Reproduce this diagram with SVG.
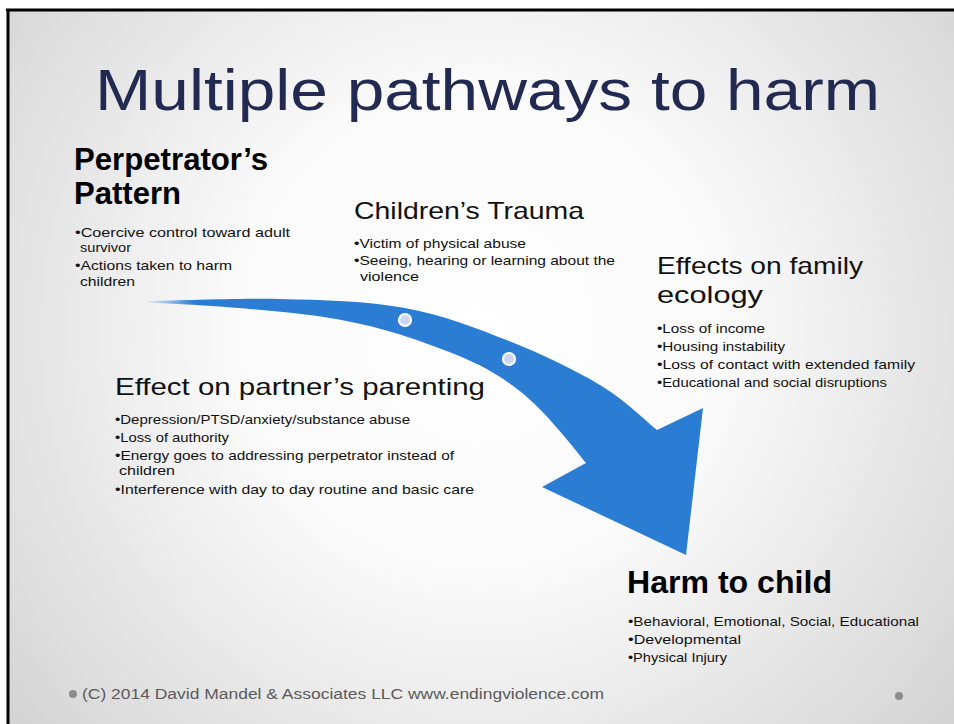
<svg xmlns="http://www.w3.org/2000/svg" width="954" height="724" viewBox="0 0 954 724">
<defs>
<radialGradient id="bg" gradientUnits="userSpaceOnUse" cx="480" cy="330" r="620">
<stop offset="0" stop-color="#ffffff"/>
<stop offset="0.4" stop-color="#fafafa"/>
<stop offset="1" stop-color="#d3d3d3"/>
</radialGradient>
<linearGradient id="arrowfill" gradientUnits="userSpaceOnUse" x1="145" y1="0" x2="195" y2="0">
<stop offset="0" stop-color="#2a7dd3" stop-opacity="0"/>
<stop offset="1" stop-color="#2a7dd3" stop-opacity="1"/>
</linearGradient>
<style>
.title{font-family:"Liberation Sans","Open Sans",sans-serif;font-size:58px;fill:#222a52}
.hb{font-family:"Liberation Sans",Arial,sans-serif;font-size:31px;font-weight:bold;fill:#000}
.h{font-family:"Liberation Sans",Arial,sans-serif;font-size:24px;fill:#111}
.b{font-family:"Liberation Sans",Arial,sans-serif;font-size:13.5px;fill:#111}
.foot{font-family:"Liberation Sans",Arial,sans-serif;font-size:14px;fill:#5a5a5a}
.dot{fill:#8c8c8c}
.knot{fill:#cdd6ee;stroke:#ffffff;stroke-width:2.2}
</style>
</defs>
<rect x="0" y="0" width="954" height="724" fill="#ffffff"/>
<rect x="8" y="10" width="946" height="714" fill="url(#bg)"/>
<line x1="6" y1="10" x2="954" y2="10" stroke="#000" stroke-width="3"/>
<line x1="8" y1="9" x2="8" y2="724" stroke="#000" stroke-width="3"/>

<g id="connectors">
<path d="M148,301 C168,301 237,298 280,299 C323,300 367,301 405,308 C443,315 476,328 509,341 C542,354 575,370 600,385 C625,400 647,422 657,430 L703,408 L686,555 L542,487 L586,463 C574,448 545,411 521,392 C497,373 476,362 444,350 C412,338 379,326 330,318 C281,310 178,303 148,303 Z" fill="url(#arrowfill)"/>
<circle class="knot" cx="405" cy="320" r="6"/>
<circle class="knot" cx="509" cy="359" r="6"/>
</g>

<g id="title">
<text class="title" x="95" y="110" textLength="785" lengthAdjust="spacingAndGlyphs">Multiple pathways to harm</text>
</g>

<g id="perpetrator">
<text class="hb" x="74" y="170" textLength="194" lengthAdjust="spacingAndGlyphs">Perpetrator’s</text>
<text class="hb" x="74" y="204" textLength="107" lengthAdjust="spacingAndGlyphs">Pattern</text>
<text class="b" x="75" y="237" textLength="215" lengthAdjust="spacingAndGlyphs">•Coercive control toward adult</text>
<text class="b" x="80" y="252" textLength="51" lengthAdjust="spacingAndGlyphs">survivor</text>
<text class="b" x="75" y="270" textLength="157" lengthAdjust="spacingAndGlyphs">•Actions taken to harm</text>
<text class="b" x="80" y="286" textLength="55" lengthAdjust="spacingAndGlyphs">children</text>
</g>

<g id="children-trauma">
<text class="h" x="354" y="219" textLength="230" lengthAdjust="spacingAndGlyphs">Children’s Trauma</text>
<text class="b" x="354" y="248" textLength="172" lengthAdjust="spacingAndGlyphs">•Victim of physical abuse</text>
<text class="b" x="354" y="265" textLength="261" lengthAdjust="spacingAndGlyphs">•Seeing, hearing or learning about the</text>
<text class="b" x="360" y="281" textLength="59" lengthAdjust="spacingAndGlyphs">violence</text>
</g>

<g id="family-ecology">
<text class="h" x="657" y="274" textLength="206" lengthAdjust="spacingAndGlyphs">Effects on family</text>
<text class="h" x="657" y="303" textLength="106" lengthAdjust="spacingAndGlyphs">ecology</text>
<text class="b" x="657" y="333" textLength="108" lengthAdjust="spacingAndGlyphs">•Loss of income</text>
<text class="b" x="657" y="351" textLength="128" lengthAdjust="spacingAndGlyphs">•Housing instability</text>
<text class="b" x="657" y="369" textLength="258" lengthAdjust="spacingAndGlyphs">•Loss of contact with extended family</text>
<text class="b" x="657" y="387" textLength="230" lengthAdjust="spacingAndGlyphs">•Educational and social disruptions</text>
</g>

<g id="partner-parenting">
<text class="h" x="115" y="395" textLength="370" lengthAdjust="spacingAndGlyphs">Effect on partner’s parenting</text>
<text class="b" x="115" y="424" textLength="295" lengthAdjust="spacingAndGlyphs">•Depression/PTSD/anxiety/substance abuse</text>
<text class="b" x="115" y="442" textLength="114" lengthAdjust="spacingAndGlyphs">•Loss of authority</text>
<text class="b" x="115" y="460" textLength="339" lengthAdjust="spacingAndGlyphs">•Energy goes to addressing perpetrator instead of</text>
<text class="b" x="119" y="475" textLength="56" lengthAdjust="spacingAndGlyphs">children</text>
<text class="b" x="115" y="494" textLength="359" lengthAdjust="spacingAndGlyphs">•Interference with day to day routine and basic care</text>
</g>

<g id="harm-to-child">
<text class="hb" x="627" y="593" textLength="205" lengthAdjust="spacingAndGlyphs">Harm to child</text>
<text class="b" x="628" y="626" textLength="291" lengthAdjust="spacingAndGlyphs">•Behavioral, Emotional, Social, Educational</text>
<text class="b" x="628" y="644" textLength="113" lengthAdjust="spacingAndGlyphs">•Developmental</text>
<text class="b" x="628" y="662" textLength="99" lengthAdjust="spacingAndGlyphs">•Physical Injury</text>
</g>

<g id="footer">
<circle class="dot" cx="73" cy="694" r="4"/>
<text class="foot" x="82" y="699" textLength="522" lengthAdjust="spacingAndGlyphs">(C) 2014 David Mandel &amp; Associates LLC www.endingviolence.com</text>
<circle class="dot" cx="899" cy="696" r="4"/>
</g>
</svg>
